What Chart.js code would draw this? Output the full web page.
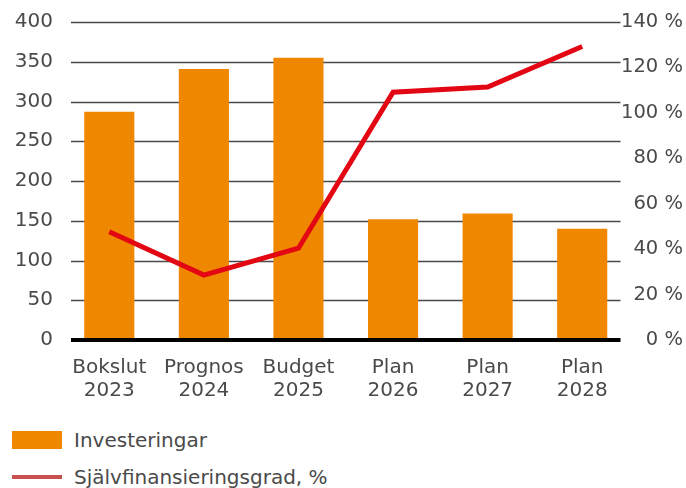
<!DOCTYPE html>
<html><head><meta charset="utf-8">
<script src="https://cdn.jsdelivr.net/npm/chart.js@4/dist/chart.umd.min.js"></script>
<style>
body{margin:0;background:#fff;width:686px;height:488px;overflow:hidden;position:relative;font-family:'DejaVu Sans',sans-serif;color:#4a4a4a;}
#c{position:absolute;left:0;top:0;}
.sw{position:absolute;left:12px;width:50px;}
.lt{position:absolute;left:74px;font-size:20px;line-height:24px;white-space:nowrap;}
</style></head><body>
<canvas id="c" width="686" height="400"></canvas>
<div class="sw" style="top:431px;height:18px;background:#f08700"></div>
<div class="lt" style="top:428px">Investeringar</div>
<div class="sw" style="top:475px;height:4px;background:#c8504e"></div>
<div class="lt" style="top:465px">Självfinansieringsgrad, %</div>
<script>
const categories = [['Bokslut','2023'],['Prognos','2024'],['Budget','2025'],['Plan','2026'],['Plan','2027'],['Plan','2028']];
const investeringar = [287, 341, 355, 152, 159, 140];
const sjalvfinansieringsgrad = [47.7, 28.6, 40.4, 109.1, 111.4, 129.2];
const leftMax = 400, leftStep = 50;
const rightMax = 140, rightStep = 20;

const gridPlugin = {
  id: 'customGrid',
  beforeDraw(chart) {
    const ctx = chart.ctx, y = chart.scales.y, a = chart.chartArea;
    ctx.save();
    ctx.strokeStyle = '#4a4a4a';
    ctx.lineWidth = 1.5;
    y.ticks.forEach(t => {
      if (t.value === 0) return;
      const py = Math.round(y.getPixelForValue(t.value)) + 0.5;
      ctx.beginPath(); ctx.moveTo(a.left + 9, py); ctx.lineTo(a.right - 9, py); ctx.stroke();
    });
    ctx.restore();
  },
  afterDraw(chart) {
    const ctx = chart.ctx, y = chart.scales.y, a = chart.chartArea;
    const py = y.getPixelForValue(0);
    ctx.save();
    ctx.fillStyle = '#000';
    ctx.fillRect(a.left + 9, py - 2, a.right - a.left - 18, 4);
    ctx.restore();
  }
};

const tickFont = {family: "'DejaVu Sans', sans-serif", size: 20};
const tickColor = '#4a4a4a';
new Chart(document.getElementById('c'), {
  data: {
    labels: categories,
    datasets: [
      {type: 'line', label: 'Självfinansieringsgrad, %', data: sjalvfinansieringsgrad, yAxisID: 'y2',
       borderColor: '#e30613', borderWidth: 5, pointRadius: 0, tension: 0, order: 0},
      {type: 'bar', label: 'Investeringar', data: investeringar, yAxisID: 'y',
       backgroundColor: '#f08700', categoryPercentage: 1, barPercentage: 0.53, order: 1}
    ]
  },
  options: {
    responsive: false, animation: false,
    layout: {padding: {top: 22, left: 0, right: 0, bottom: 0}},
    plugins: {legend: {display: false}, tooltip: {enabled: false}},
    scales: {
      x: {
        grid: {display: false, drawTicks: false}, border: {display: false},
        ticks: {font: {...tickFont, lineHeight: 1.17}, color: tickColor, maxRotation: 0, autoSkip: false, padding: 16},
        afterFit(s) { s.height = 60; }
      },
      y: {
        position: 'left', min: 0, max: leftMax,
        grid: {display: false, drawTicks: false}, border: {display: false},
        ticks: {stepSize: leftStep, font: tickFont, color: tickColor, padding: 9},
        afterFit(s) { s.width = 62; }
      },
      y2: {
        position: 'right', min: 0, max: rightMax,
        grid: {display: false, drawTicks: false}, border: {display: false},
        ticks: {stepSize: rightStep, font: {...tickFont, size: 19.5}, color: tickColor,
                mirror: true, crossAlign: 'near', padding: 53.5,
                callback: v => v + ' %'},
        afterFit(s) { s.width = 56.5; s.paddingTop = 0; s.paddingBottom = 0; }
      }
    }
  },
  plugins: [gridPlugin]
});
</script>
</body></html>
